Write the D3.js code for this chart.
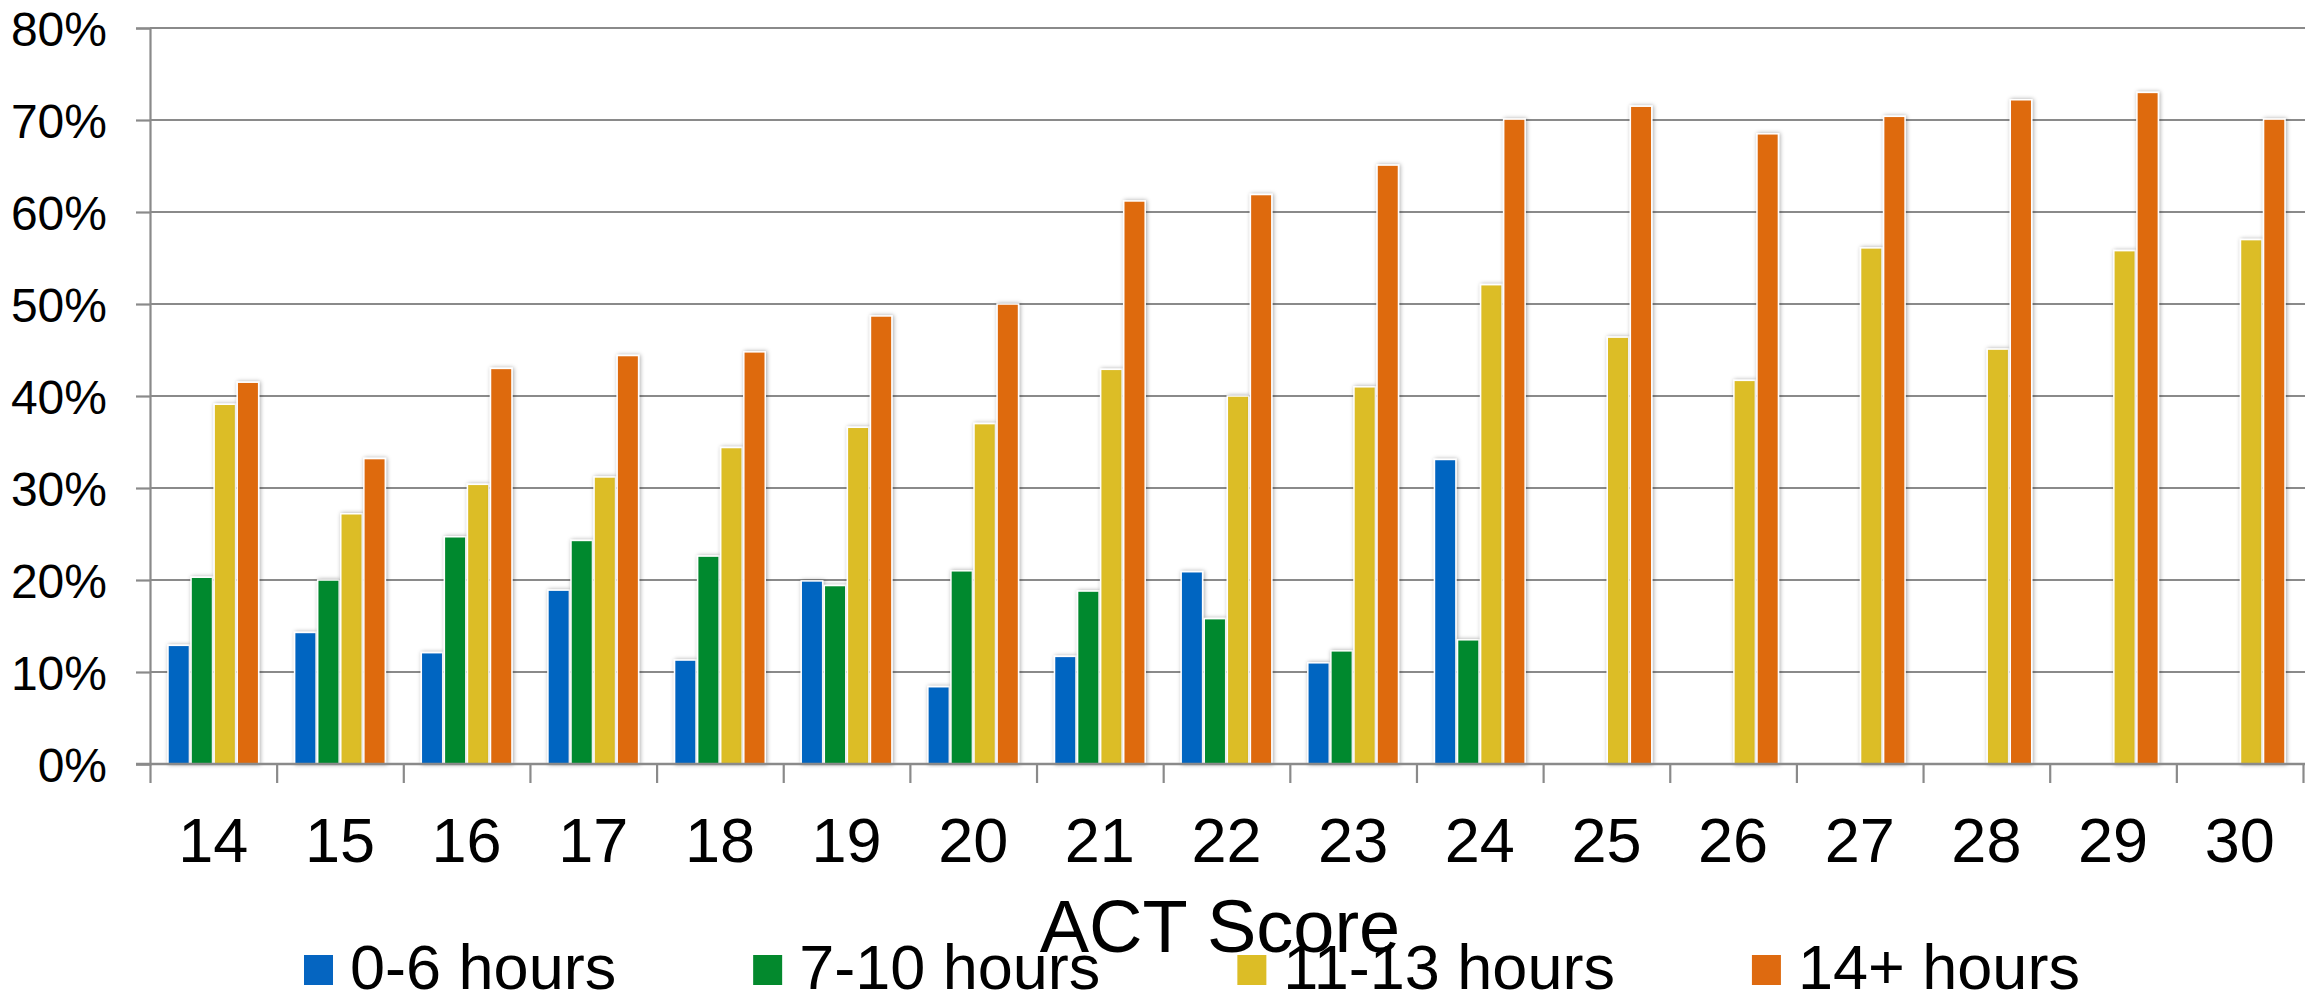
<!DOCTYPE html>
<html>
<head>
<meta charset="utf-8">
<script src="https://cdn.jsdelivr.net/npm/d3@7"></script>
<style>
    body { margin: 0; background: #fff; }
    text { font-family: "Liberation Sans", Arial, sans-serif; fill: #000; }
</style>
</head>
<body>
<script>
// ACT score buckets and share of students per weekly study-hours group (percent)
const categories = ["14", "15", "16", "17", "18", "19", "20", "21", "22", "23", "24", "25", "26", "27", "28", "29", "30"];
const series_names = ["0-6 hours", "7-10 hours", "11-13 hours", "14+ hours"];
const hours_0_6 = [12.9, 14.3, 12.1, 18.9, 11.3, 19.9, 8.4, 11.7, 20.9, 11.0, 33.1, null, null, null, null, null, null];
const hours_7_10 = [20.3, 20.0, 24.7, 24.3, 22.6, 19.4, 21.0, 18.8, 15.8, 12.3, 13.5, null, null, null, null, null, null];
const hours_11_13 = [39.1, 27.2, 30.4, 31.2, 34.4, 36.6, 37.0, 42.9, 40.0, 41.0, 52.1, 46.4, 41.7, 56.1, 45.1, 55.8, 57.0];
const hours_14_plus = [41.5, 33.2, 43.0, 44.4, 44.8, 48.7, 50.0, 61.2, 61.9, 65.1, 70.1, 71.5, 68.5, 70.4, 72.2, 73.0, 70.1];
const y_ticks = [0, 10, 20, 30, 40, 50, 60, 70, 80];
const x_title = "ACT Score";

class GroupedBarChart {
    constructor(name) {
        this.name = name;
        this.total_width = 2305;
        this.total_height = 998;
        this.margin = { top: 28, right: 2, bottom: 234, left: 150 };
        this.graph_width = this.total_width - this.margin.left - this.margin.right;
        this.graph_height = this.total_height - this.margin.top - this.margin.bottom;
        this.colors = ["#0565c1", "#03892d", "#dcbd26", "#de6a10"];
        this.data = categories.map((c, i) => ({
            cat: c,
            values: [hours_0_6[i], hours_7_10[i], hours_11_13[i], hours_14_plus[i]]
        }));
    }

    construct_svg(self = this) {
        const svg = d3.select("body").append("svg")
            .attr("width", self.total_width)
            .attr("height", self.total_height)
            .attr("id", self.name);
        const f = svg.append("defs").append("filter")
            .attr("id", "barShadow")
            .attr("x", "-30%").attr("y", "-5%")
            .attr("width", "160%").attr("height", "110%");
        f.append("feDropShadow")
            .attr("dx", 1).attr("dy", 0)
            .attr("stdDeviation", 2)
            .attr("flood-color", "#000")
            .attr("flood-opacity", 0.35);
        self.svg = svg;
        self.g = svg.append("g")
            .attr("transform", "translate(" + self.margin.left + "," + self.margin.top + ")");
    }

    construct_graph(self = this) {
        const g = self.g;
        const H = self.graph_height;
        const x0 = d3.scaleBand().domain(categories).range([0, self.graph_width]).padding(0);
        const bw = x0.bandwidth();
        const x1 = d3.scaleBand().domain(d3.range(series_names.length))
            .range([bw * 0.142, bw * 0.858])
            .paddingInner(0.07);
        const y = d3.scaleLinear().domain([0, 80]).range([H, 0]);

        // gridlines
        g.append("g").attr("class", "grid")
            .selectAll("line")
            .data(y_ticks.filter(d => d > 0))
            .enter().append("line")
            .attr("x1", 0).attr("x2", self.graph_width + self.margin.right)
            .attr("y1", d => y(d)).attr("y2", d => y(d))
            .attr("stroke", "#8a8a8a").attr("stroke-width", 2.2);

        // y axis
        const ya = g.append("g").attr("class", "y_axis")
            .call(d3.axisLeft(y).tickValues(y_ticks).tickFormat(d => d + "%")
                .tickSize(14).tickPadding(29));
        ya.select(".domain").attr("stroke", "#8a8a8a").attr("stroke-width", 2.2);
        ya.selectAll(".tick line").attr("stroke", "#8a8a8a").attr("stroke-width", 2.2);
        ya.selectAll(".tick text")
            .attr("font-size", 48).attr("dy", "0.36em")
            .style("font-family", "'Liberation Sans', Arial, sans-serif");

        // bars
        const groups = g.selectAll(".group")
            .data(self.data)
            .enter().append("g")
            .attr("class", "group")
            .attr("transform", d => "translate(" + x0(d.cat) + ",0)");
        groups.selectAll("rect")
            .data(d => d.values.map((v, i) => ({ i: i, v: v })).filter(e => e.v != null))
            .enter().append("rect")
            .attr("x", e => x1(e.i))
            .attr("width", x1.bandwidth())
            .attr("y", e => y(e.v))
            .attr("height", e => H - y(e.v))
            .attr("fill", e => self.colors[e.i])
            .attr("stroke", "#fff")
            .attr("stroke-width", 1.5)
            .attr("filter", "url(#barShadow)");

        // x axis: boundary ticks
        const xb = d3.scaleLinear().domain([0, categories.length]).range([0, self.graph_width]);
        const xa = g.append("g").attr("class", "x_axis")
            .attr("transform", "translate(0," + H + ")")
            .call(d3.axisBottom(xb).tickValues(d3.range(categories.length + 1))
                .tickFormat("").tickSize(19).tickSizeOuter(0));
        xa.select(".domain").remove();
        xa.selectAll(".tick line").attr("stroke", "#8a8a8a").attr("stroke-width", 2.2);
        g.append("line")
            .attr("x1", -14).attr("x2", self.graph_width + self.margin.right)
            .attr("y1", H).attr("y2", H)
            .attr("stroke", "#8a8a8a").attr("stroke-width", 2.6);

        // x labels
        const xl = g.append("g").attr("class", "x_labels")
            .attr("transform", "translate(0," + H + ")")
            .call(d3.axisBottom(x0).tickSize(0).tickPadding(53));
        xl.select(".domain").remove();
        xl.selectAll(".tick text")
            .attr("font-size", 63)
            .style("font-family", "'Liberation Sans', Arial, sans-serif");

        // axis title
        self.svg.append("text")
            .attr("x", 1220).attr("y", 952)
            .attr("text-anchor", "middle")
            .attr("font-size", 74)
            .text(x_title);
    }

    construct_legend(self = this) {
        const lg = self.svg.append("g").attr("class", "legend");
        let cx = 304;
        series_names.forEach((name, i) => {
            lg.append("rect")
                .attr("x", cx).attr("y", 955)
                .attr("width", 29).attr("height", 30)
                .attr("fill", self.colors[i]);
            const t = lg.append("text")
                .attr("x", cx + 46).attr("y", 989)
                .attr("font-size", 63)
                .text(name);
            cx = cx + 46 + t.node().getComputedTextLength() + 137;
        });
    }
}

const chart = new GroupedBarChart("actChart");
chart.construct_svg();
chart.construct_graph();
chart.construct_legend();
</script>
</body>
</html>
